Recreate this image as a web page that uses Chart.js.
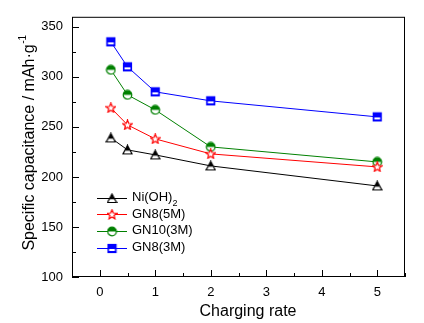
<!DOCTYPE html>
<html>
<head>
<meta charset="utf-8">
<script src="https://cdn.jsdelivr.net/npm/chart.js@4/dist/chart.umd.min.js"></script>
<style>
  html, body { margin: 0; padding: 0; background: #fff; }
  #wrap { width: 424px; height: 323px; }
</style>
</head>
<body>
<div id="wrap"><canvas id="myChart" width="424" height="323"></canvas></div>
<script>
// data
var rates = [0.2, 0.5, 1, 2, 5];
var niOH2 = [239, 227, 222, 211, 191];
var gn8_5M = [269, 252, 238, 223, 210];
var gn10_3M = [307, 282, 267, 230, 215];
var gn8_3M = [335, 310, 285, 276, 260];
var xTicks = [0, 1, 2, 3, 4, 5];
var yTicks = [100, 150, 200, 250, 300, 350];

var FONT = '"Liberation Sans", Arial, sans-serif';

var makeMarker = function(shape, color) {
	var c = document.createElement('canvas');
	c.width = 11;
	c.height = 11;
	var g = c.getContext('2d');
	g.lineWidth = 1.2;
	g.strokeStyle = color;
	if (shape === 'square') {
		g.fillStyle = color;
		g.fillRect(1.5, 1.5, 8, 8);
		g.fillStyle = '#fff';
		g.fillRect(2.5, 6, 6, 2);
		g.strokeRect(1.5, 1.5, 8, 8);
	} else if (shape === 'circle') {
		g.fillStyle = '#fff';
		g.beginPath(); g.arc(5.5, 5.5, 4.3, 0, Math.PI * 2); g.fill();
		g.fillStyle = color;
		g.beginPath(); g.arc(5.5, 5.5, 4.3, Math.PI, Math.PI * 2); g.closePath(); g.fill();
		g.beginPath(); g.arc(5.5, 5.5, 4.3, 0, Math.PI * 2); g.stroke();
	} else if (shape === 'triangle') {
		g.fillStyle = '#fff';
		g.beginPath(); g.moveTo(5.5, 1); g.lineTo(10, 9.5); g.lineTo(1, 9.5); g.closePath(); g.fill();
		g.fillStyle = color;
		g.beginPath(); g.moveTo(5.5, 1); g.lineTo(8.2, 6.2); g.lineTo(2.8, 6.2); g.closePath(); g.fill();
		g.beginPath(); g.moveTo(5.5, 1); g.lineTo(10, 9.5); g.lineTo(1, 9.5); g.closePath(); g.stroke();
	} else {
		g.fillStyle = '#fff';
		g.beginPath();
		for (var i = 0; i < 10; i++) {
			var r = i % 2 === 0 ? 5 : 2.2;
			var a = -Math.PI / 2 + i * Math.PI / 5;
			var px = 5.5 + r * Math.cos(a), py = 5.8 + r * Math.sin(a);
			if (i === 0) g.moveTo(px, py); else g.lineTo(px, py);
		}
		g.closePath();
		g.fill();
		g.stroke();
	}
	return c;
};

var series = [
	{label: 'Ni(OH)', sub: '2', data: niOH2, color: '#000000', shape: 'triangle'},
	{label: 'GN8(5M)', data: gn8_5M, color: '#ff0000', shape: 'star'},
	{label: 'GN10(3M)', data: gn10_3M, color: '#008000', shape: 'circle'},
	{label: 'GN8(3M)', data: gn8_3M, color: '#0000ff', shape: 'square'}
];

var datasets = series.map(function(s) {
	var marker = makeMarker(s.shape, s.color);
	s.marker = marker;
	return {
		label: s.label,
		data: rates.map(function(x, i) { return {x: x, y: s.data[i]}; }),
		borderColor: s.color,
		backgroundColor: s.color,
		borderWidth: 1,
		pointStyle: marker,
		pointRadius: 5,
		tension: 0
	};
});

// ticks inside, frame, legend and axis titles
var decor = {
	id: 'decor',
	afterDraw: function(chart) {
		var ctx = chart.ctx;
		var a = chart.chartArea;
		var xs = chart.scales.x, ys = chart.scales.y;
		ctx.save();
		ctx.strokeStyle = '#000';
		ctx.lineWidth = 1;
		ctx.strokeRect(a.left + 0.5, a.top + 0.5, a.right - a.left - 1, a.bottom - a.top - 1);
		ctx.beginPath();
		for (var v = -0.5; v <= 5.5; v += 0.5) {
			var px = Math.round(xs.getPixelForValue(v)) + 0.5;
			var len = (v % 1 === 0) ? 7 : 4;
			ctx.moveTo(px, a.bottom);
			ctx.lineTo(px, a.bottom - len);
		}
		for (var w = 100; w <= 350; w += 25) {
			var py = Math.round(ys.getPixelForValue(w)) + 0.5;
			var len2 = (w % 50 === 0) ? 7 : 4;
			ctx.moveTo(a.left, py);
			ctx.lineTo(a.left + len2, py);
		}
		ctx.stroke();

		// legend
		ctx.font = '13px ' + FONT;
		ctx.textBaseline = 'middle';
		ctx.fillStyle = '#000';
		series.forEach(function(s, i) {
			var y = 197.5 + i * 16.7;
			ctx.strokeStyle = s.color;
			ctx.beginPath();
			ctx.moveTo(97, Math.round(y) + 0.5);
			ctx.lineTo(127, Math.round(y) + 0.5);
			ctx.stroke();
			ctx.drawImage(s.marker, 112 - 5.5, Math.round(y) - 5);
			ctx.fillStyle = '#000';
			ctx.textAlign = 'left';
			ctx.fillText(s.label, 132, y);
			if (s.sub) {
				var wt = ctx.measureText(s.label).width;
				ctx.font = '9px ' + FONT;
				ctx.fillText(s.sub, 132 + wt, y + 6);
				ctx.font = '13px ' + FONT;
			}
		});

		// axis titles
		ctx.font = '16px ' + FONT;
		ctx.textAlign = 'center';
		ctx.fillText('Charging rate', 248, 312);

		ctx.translate(30, 143);
		ctx.rotate(-Math.PI / 2);
		var main = 'Specific capacitance / mAh\u00b7g';
		var wm = ctx.measureText(main).width;
		ctx.font = '10px ' + FONT;
		var ws = ctx.measureText('-1').width;
		var start = -(wm + ws) / 2;
		ctx.textAlign = 'left';
		ctx.font = '16px ' + FONT;
		ctx.fillText(main, start, 0);
		ctx.font = '10px ' + FONT;
		ctx.fillText('-1', start + wm + 0.5, -7);
		ctx.restore();
	}
};

var ctx = document.getElementById('myChart');
var myChart = new Chart(ctx, {
	type: 'line',
	data: {datasets: datasets},
	options: {
		responsive: false,
		animation: false,
		layout: {padding: {top: 6, right: 19, left: 0, bottom: 0}},
		plugins: {legend: {display: false}, tooltip: {enabled: false}},
		scales: {
			x: {
				type: 'linear',
				min: -0.5,
				max: 5.5,
				afterBuildTicks: function(scale) {
					scale.ticks = xTicks.map(function(v) { return {value: v}; });
				},
				afterFit: function(scale) { scale.height = 46; },
				grid: {display: false, drawTicks: false},
				border: {display: false},
				ticks: {color: '#000', padding: 8, font: {size: 13, family: FONT}}
			},
			y: {
				min: 100,
				max: 360,
				afterBuildTicks: function(scale) {
					scale.ticks = yTicks.map(function(v) { return {value: v}; });
				},
				afterFit: function(scale) { scale.width = 72; },
				grid: {display: false, drawTicks: false},
				border: {display: false},
				ticks: {color: '#000', padding: 9, font: {size: 13, family: FONT}}
			}
		}
	},
	plugins: [decor]
});
</script>
</body>
</html>
